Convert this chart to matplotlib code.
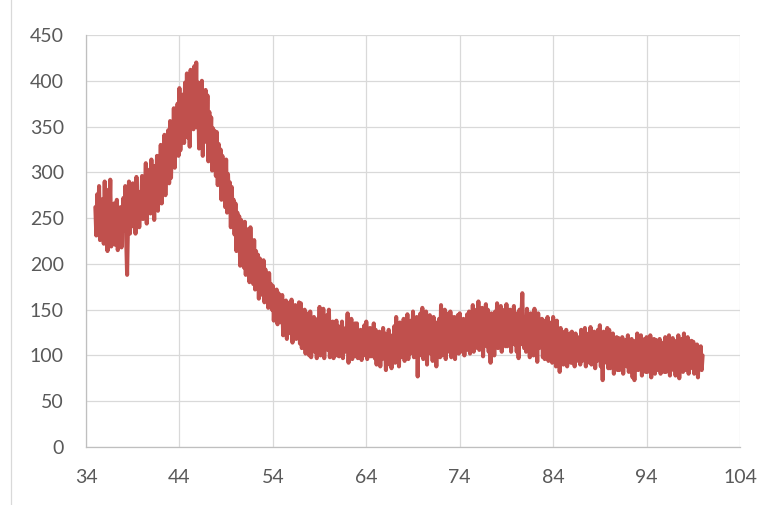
import numpy as np
import matplotlib
matplotlib.use("Agg")
import matplotlib.pyplot as plt
from matplotlib.lines import Line2D

# 2-theta scan, 0.1 degree steps from 35.0 to 100.0
two_theta_start = 35.0
two_theta_step = 0.1

# counts, one row per degree (x.0 .. x.9)
counts = [
    262, 231, 276, 244, 285, 226, 258, 239, 271, 222,  # 35
    290, 236, 268, 214, 281, 247, 292, 219, 259, 233,  # 36
    266, 221, 248, 270, 215, 243, 229, 262, 218, 251,  # 37
    272, 236, 285, 227, 188, 246, 290, 233, 264, 241,  # 38
    288, 245, 271, 233, 295, 252, 279, 240, 268, 258,  # 39
    296, 249, 281, 262, 310, 244, 290, 268, 303, 255,  # 40
    314, 262, 295, 248, 307, 277, 318, 258, 299, 283,  # 41
    330, 266, 312, 290, 341, 275, 322, 298, 346, 288,  # 42
    356, 294, 338, 312, 370, 305, 348, 322, 375, 318,  # 43
    392, 324, 368, 340, 385, 332, 398, 345, 408, 338,  # 44
    395, 328, 412, 352, 388, 347, 416, 360, 420, 349,  # 45
    398, 326, 384, 344, 400, 318, 372, 352, 390, 333,  # 46
    384, 312, 366, 330, 360, 302, 348, 318, 345, 296,  # 47
    344, 286, 331, 296, 325, 270, 318, 284, 310, 262,  # 48
    314, 256, 298, 268, 289, 240, 284, 252, 270, 232,  # 49
    266, 214, 256, 226, 252, 198, 248, 210, 240, 196,  # 50
    246, 188, 238, 202, 232, 180, 240, 194, 222, 178,  # 51
    226, 172, 214, 186, 210, 162, 206, 178, 200, 166,  # 52
    204, 158, 194, 170, 186, 152, 190, 162, 178, 150,  # 53
    176, 138, 164, 150, 172, 134, 168, 142, 160, 136,  # 54
    166, 122, 152, 136, 160, 118, 150, 130, 158, 124,  # 55
    161, 114, 148, 126, 155, 118, 146, 132, 158, 113,  # 56
    157, 108, 142, 120, 150, 102, 138, 116, 146, 100,  # 57
    148, 98, 134, 118, 142, 104, 130, 97, 140, 112,  # 58
    153, 100, 136, 114, 151, 97, 132, 120, 144, 106,  # 59
    150, 98, 128, 110, 137, 97, 124, 112, 138, 100,  # 60
    132, 99, 126, 108, 137, 97, 122, 104, 130, 110,  # 61
    146, 92, 128, 106, 140, 96, 124, 112, 135, 99,  # 62
    135, 97, 118, 104, 128, 95, 122, 108, 133, 100,  # 63
    137, 96, 124, 102, 130, 99, 118, 106, 135, 97,  # 64
    128, 90, 116, 100, 126, 88, 120, 96, 130, 102,  # 65
    124, 84, 112, 98, 128, 90, 118, 86, 122, 100,  # 66
    132, 92, 142, 104, 126, 88, 136, 98, 128, 106,  # 67
    140, 94, 128, 108, 145, 96, 132, 102, 138, 110,  # 68
    148, 98, 130, 112, 142, 77, 134, 104, 146, 100,  # 69
    152, 96, 138, 110, 148, 90, 132, 114, 144, 102,  # 70
    130, 94, 142, 106, 126, 88, 136, 112, 140, 98,  # 71
    155, 100, 134, 116, 150, 96, 138, 108, 146, 104,  # 72
    148, 98, 128, 114, 142, 96, 136, 110, 144, 102,  # 73
    146, 104, 132, 118, 140, 100, 138, 112, 145, 106,  # 74
    148, 102, 136, 120, 155, 104, 140, 114, 150, 108,  # 75
    159, 106, 138, 122, 152, 99, 144, 116, 156, 110,  # 76
    150, 104, 136, 92, 146, 112, 140, 100, 148, 118,  # 77
    157, 108, 142, 124, 154, 104, 138, 116, 150, 110,  # 78
    156, 110, 144, 126, 150, 104, 140, 118, 154, 112,  # 79
    146, 104, 138, 97, 150, 112, 142, 168, 120, 108,  # 80
    142, 104, 151, 114, 136, 98, 146, 110, 132, 100,  # 81
    151, 102, 134, 93, 146, 108, 130, 112, 140, 98,  # 82
    138, 96, 126, 108, 142, 94, 130, 102, 136, 92,  # 83
    142, 100, 122, 88, 138, 96, 124, 82, 130, 98,  # 84
    126, 90, 118, 102, 128, 88, 114, 96, 124, 92,  # 85
    126, 92, 116, 88, 124, 98, 112, 94, 120, 90,  # 86
    128, 94, 114, 100, 130, 88, 118, 96, 124, 92,  # 87
    131, 90, 116, 100, 126, 86, 120, 94, 128, 96,  # 88
    133, 88, 114, 73, 126, 92, 118, 96, 130, 86,  # 89
    128, 86, 112, 96, 124, 80, 116, 92, 120, 84,  # 90
    119, 84, 110, 92, 120, 80, 114, 94, 117, 88,  # 91
    122, 82, 110, 90, 118, 76, 112, 73, 116, 86,  # 92
    124, 84, 110, 92, 122, 78, 114, 88, 118, 82,  # 93
    120, 82, 108, 90, 122, 76, 112, 86, 118, 80,  # 94
    117, 84, 106, 92, 118, 80, 110, 88, 114, 82,  # 95
    120, 82, 108, 90, 122, 78, 112, 86, 119, 84,  # 96
    116, 78, 106, 88, 122, 75, 110, 84, 118, 82,  # 97
    124, 84, 108, 92, 120, 80, 112, 88, 116, 86,  # 98
    115, 80, 106, 90, 112, 76, 108, 88, 110, 84,  # 99
    100,  # 100
]

x_ticks = [34, 44, 54, 64, 74, 84, 94, 104]
y_ticks = [0, 50, 100, 150, 200, 250, 300, 350, 400, 450]

plt.rcParams['font.family'] = ['Lato', 'DejaVu Sans']

two_theta = two_theta_start + two_theta_step * np.arange(len(counts))

W, H = 775, 505
fig = plt.figure(figsize=(W / 100, H / 100), dpi=100)
ax = fig.add_axes([86 / W, 1 - 447 / H, (740 - 86) / W, (447 - 35) / H])

ax.plot(two_theta, counts, color='#C0504D', lw=2.9, solid_joinstyle='round',
        solid_capstyle='round', zorder=3)

ax.set_xlim(x_ticks[0], x_ticks[-1])
ax.set_ylim(y_ticks[0], y_ticks[-1])
ax.set_xticks(x_ticks)
ax.set_yticks(y_ticks)
ax.grid(True, color='#D9D9D9', lw=0.9, zorder=0)
ax.tick_params(length=0, labelsize=14, labelcolor='#595959')
ax.tick_params(axis='y', pad=16)
ax.tick_params(axis='x', pad=16)
for side in ('top', 'right'):
    ax.spines[side].set_visible(False)
for side in ('left', 'bottom'):
    ax.spines[side].set_color('#BFBFBF')
    ax.spines[side].set_linewidth(0.9)

# chart area border on the left
fig.add_artist(Line2D([10.5 / W, 10.5 / W], [0, 1], color='#D9D9D9', lw=0.9))

fig.savefig('out.png', dpi=100)
